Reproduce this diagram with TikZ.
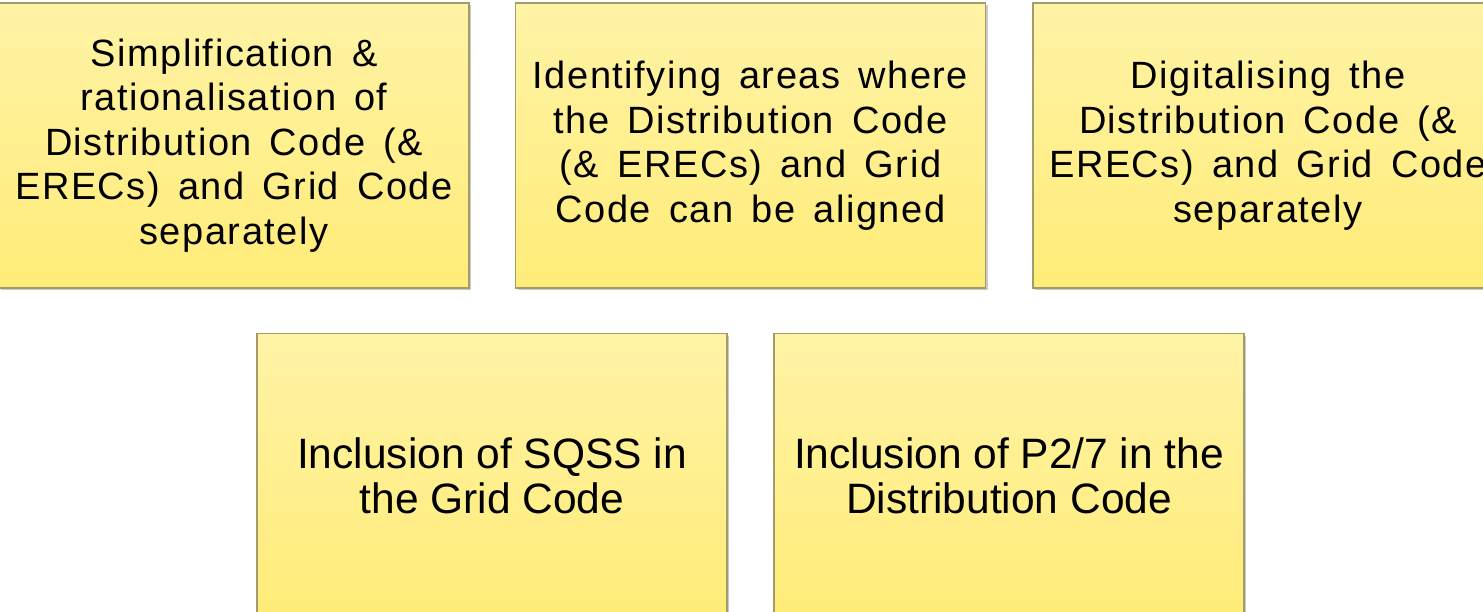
\documentclass[tikz,border=0pt]{standalone}
\usepackage{fontspec}
\setmainfont{Liberation Sans}
\newfontfamily\topfont[LetterSpace=4,WordSpace=1.5]{Liberation Sans}
\newfontfamily\botfont{Liberation Sans}
\usetikzlibrary{shadows}
\definecolor{boxtop}{HTML}{FFF3A6}
\definecolor{boxbot}{HTML}{FFEC78}
\definecolor{boxline}{HTML}{A39C6A}
\tikzset{
  notebox/.style={rectangle, draw=boxline, line width=1.2pt, top color=boxtop, bottom color=boxbot,
    minimum width=470pt, minimum height=285pt, inner sep=0pt, align=center, text=black,
    drop shadow={shadow xshift=2pt, shadow yshift=-2pt, opacity=0.35, fill=black!60}},
  toptext/.style={font=\topfont\fontsize{38}{44.5}\selectfont},
  bottext/.style={font=\botfont\fontsize{42.5}{45}\selectfont}
}
\begin{document}
\begin{tikzpicture}[x=1pt,y=-1pt]
\useasboundingbox (0,0) rectangle (1483,612);
\begin{scope}
\clip (0,0) rectangle (1483,612);
\node[notebox,toptext] (b1) at (234,145.5) {Simplification \&\\rationalisation of\\Distribution Code (\&\\ERECs) and Grid Code\\separately};
\node[notebox,toptext] (b2) at (750.5,145.5) {Identifying areas where\\the Distribution Code\\(\& ERECs) and Grid\\Code can be aligned};
\node[notebox,toptext] (b3) at (1268,145.5) {Digitalising the\\Distribution Code (\&\\ERECs) and Grid Code\\separately};
\node[notebox,bottext] (b4) at (492,476) {Inclusion of SQSS in\\the Grid Code};
\node[notebox,bottext] (b5) at (1009,476) {Inclusion of P2/7 in the\\Distribution Code};
\end{scope}
\end{tikzpicture}
\end{document}
